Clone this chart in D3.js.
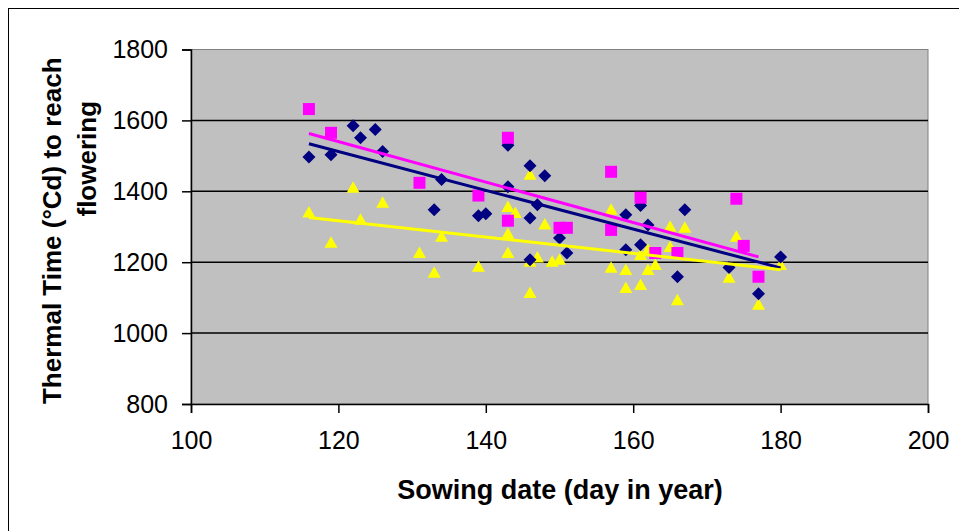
<!DOCTYPE html>
<html>
<head>
<meta charset="utf-8">
<script src="https://cdn.jsdelivr.net/npm/d3@7"></script>
<style>
  body { margin: 0; background: #fff; }
  text { font-family: "Liberation Sans", Arial, sans-serif; }
</style>
</head>
<body>
<svg id="chart" width="959" height="531"></svg>
<script>
// sowing day / thermal time
var diamondX = [116, 119, 122, 123, 125, 126, 133, 134, 139, 140, 143, 143, 146, 146, 146, 147, 148, 150, 151, 159, 159, 161, 161, 162, 166, 167, 173, 177, 180];
var diamondY = [1497, 1503, 1585, 1551, 1574, 1512, 1348, 1433, 1331, 1337, 1413, 1530, 1472, 1325, 1207, 1362, 1444, 1268, 1226, 1334, 1235, 1249, 1360, 1305, 1159, 1348, 1185, 1111, 1215];

var squareX = [116, 119, 131, 139, 143, 143, 150, 151, 157, 157, 161, 163, 166, 174, 175, 177];
var squareY = [1632, 1565, 1424, 1388, 1551, 1317, 1297, 1297, 1455, 1291, 1382, 1226, 1226, 1379, 1246, 1159];

var triangleX = [116, 119, 122, 123, 126, 131, 133, 134, 139, 143, 144, 143, 143, 146, 146, 146, 147, 148, 149, 150, 157, 157, 159, 159, 161, 162, 163, 162, 161, 165, 167, 165, 166, 173, 174, 177, 180];
var triangleY = [1340, 1255, 1410, 1320, 1368, 1226, 1170, 1272, 1187, 1356, 1339, 1280, 1226, 1447, 1113, 1201, 1213, 1306, 1201, 1207, 1348, 1184, 1178, 1127, 1136, 1178, 1192, 1235, 1220, 1300, 1297, 1243, 1093, 1156, 1272, 1080, 1192];

// linear trend end points (x range of each series)
var trendNavy = [[116, 1534], [180, 1184]];
var trendMagenta = [[116, 1563], [177, 1215]];
var trendYellow = [[116, 1326], [180, 1179]];

var xTicks = [100, 120, 140, 160, 180, 200];
var yTicks = [800, 1000, 1200, 1400, 1600, 1800];

var svg = d3.select("#chart");

var pLeft = 191, pRight = 928, pTop = 49.5, pBottom = 404;

var x = d3.scaleLinear().domain([100, 200]).range([pLeft, pRight]);
var y = d3.scaleLinear().domain([800, 1800]).range([pBottom, pTop]);

// outer chart frame
svg.append("rect")
    .attr("x", 8.5).attr("y", 8.5)
    .attr("width", 1000).attr("height", 1000)
    .attr("fill", "#fff")
    .attr("stroke", "#000")
    .attr("stroke-width", 1);

// plot area
svg.append("rect")
    .attr("x", pLeft).attr("y", pTop)
    .attr("width", pRight - pLeft).attr("height", pBottom - pTop)
    .attr("fill", "#c0c0c0")
    .attr("stroke", "#808080")
    .attr("stroke-width", 1);

svg.append("g")
  .selectAll("line")
  .data(yTicks.slice(1, -1))
  .enter().append("line")
    .attr("x1", pLeft).attr("x2", pRight)
    .attr("y1", d => y(d)).attr("y2", d => y(d))
    .attr("stroke", "#000")
    .attr("stroke-width", 1.5);

var xAxis = svg.append("g")
    .attr("transform", "translate(0," + pBottom + ")")
    .call(d3.axisBottom(x).tickValues(xTicks).tickFormat(d3.format("d")).tickSize(9).tickPadding(18));

var yAxis = svg.append("g")
    .attr("transform", "translate(" + pLeft + ",0)")
    .call(d3.axisLeft(y).tickValues(yTicks).tickFormat(d3.format("d")).tickSize(9).tickPadding(14));

[xAxis, yAxis].forEach(function(g) {
  g.select(".domain").attr("stroke", "#000").attr("stroke-width", 1.5);
  g.selectAll(".tick line").attr("stroke", "#000").attr("stroke-width", 1.5);
  g.selectAll(".tick text")
    .attr("fill", "#000")
    .style("font-family", "'Liberation Sans', Arial, sans-serif")
    .style("font-size", "25px");
});

// markers
var triPath = "M0,-6.5L6.5,5L-6.5,5Z";
var diaPath = "M0,-6.5L6.5,0L0,6.5L-6.5,0Z";

svg.append("g").selectAll("path")
  .data(d3.range(triangleX.length))
  .enter().append("path")
    .attr("d", triPath)
    .attr("transform", i => "translate(" + x(triangleX[i]) + "," + y(triangleY[i]) + ")")
    .attr("fill", "#ffff00");

svg.append("g").selectAll("path")
  .data(d3.range(diamondX.length))
  .enter().append("path")
    .attr("d", diaPath)
    .attr("transform", i => "translate(" + x(diamondX[i]) + "," + y(diamondY[i]) + ")")
    .attr("fill", "#000080");

svg.append("g").selectAll("rect")
  .data(d3.range(squareX.length))
  .enter().append("rect")
    .attr("x", i => x(squareX[i]) - 6)
    .attr("y", i => y(squareY[i]) - 6)
    .attr("width", 12).attr("height", 12)
    .attr("fill", "#ff00ff");

// trend lines
var line = d3.line().x(d => x(d[0])).y(d => y(d[1]));

[[trendNavy, "#000080"], [trendMagenta, "#ff00ff"], [trendYellow, "#ffff00"]].forEach(function(t) {
  svg.append("path")
      .attr("d", line(t[0]))
      .attr("fill", "none")
      .attr("stroke", t[1])
      .attr("stroke-width", 3);
});

// titles
svg.append("text")
    .attr("x", 560)
    .attr("y", 499)
    .attr("text-anchor", "middle")
    .style("font-size", "27px")
    .style("font-weight", "bold")
    .text("Sowing date (day in year)");

var yTitle = svg.append("text")
    .attr("transform", "translate(61," + ((pTop + pBottom) / 2 + 4) + ") rotate(-90)")
    .attr("text-anchor", "middle")
    .style("font-size", "26px")
    .style("font-weight", "bold");

yTitle.append("tspan").attr("x", 0).attr("dy", 0).text("Thermal Time (°Cd) to reach");
yTitle.append("tspan").attr("x", 72).attr("dy", 35).text("flowering");
</script>
</body>
</html>
